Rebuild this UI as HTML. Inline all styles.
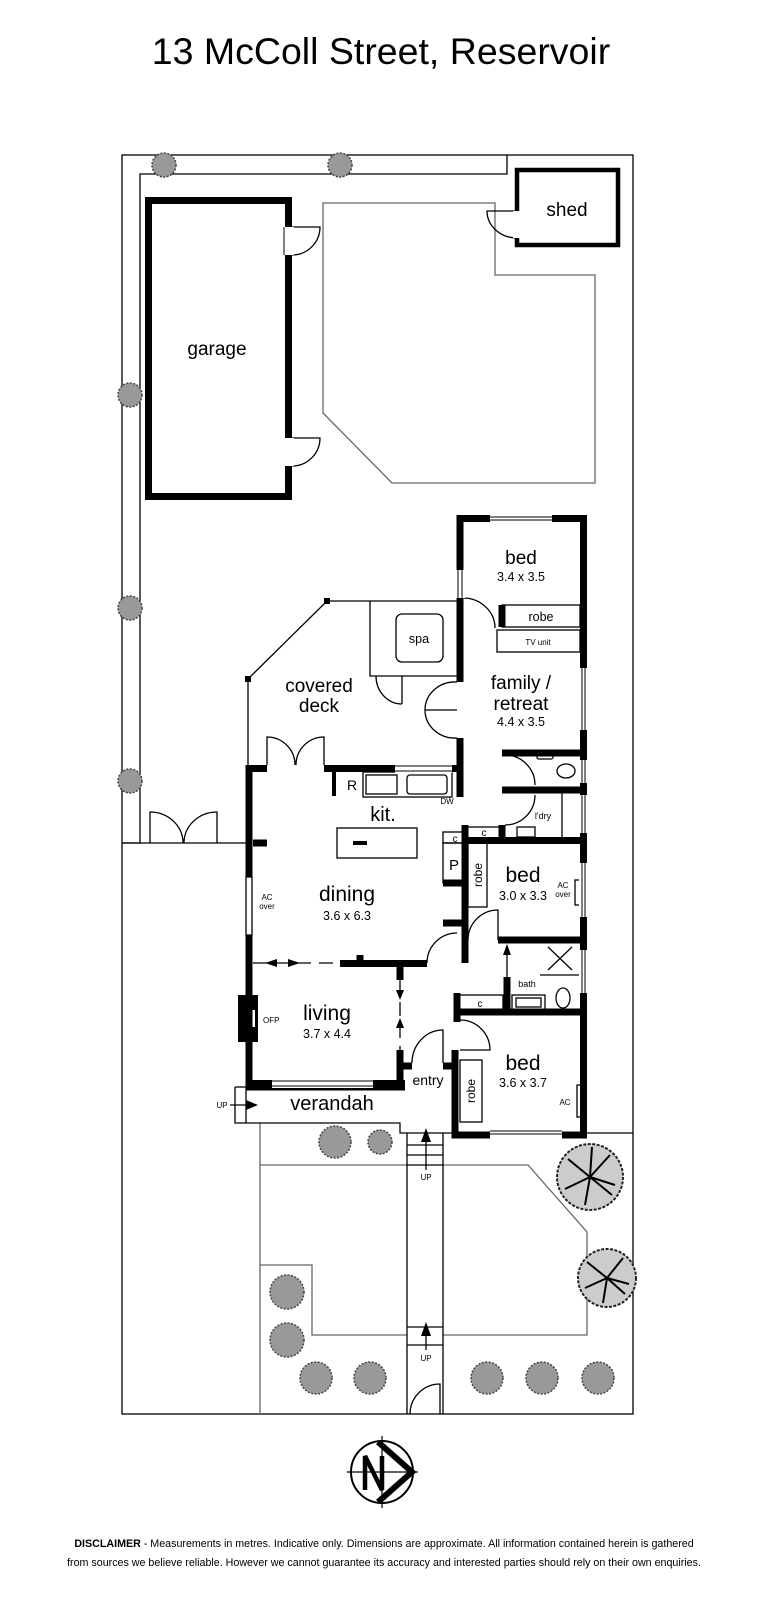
<!DOCTYPE html>
<html><head><meta charset="utf-8"><style>
body{margin:0;background:#fff;width:768px;height:1600px;overflow:hidden;font-family:"Liberation Sans",sans-serif}
svg{position:absolute;left:0;top:0}
</style></head><body>
<svg width="768" height="1600" viewBox="0 0 768 1600" font-family="Liberation Sans, sans-serif">
<text x="381" y="64" font-size="37.5" text-anchor="middle">13 McColl Street, Reservoir</text>
<g fill="none" stroke="#000" stroke-width="1.3">
<rect x="122" y="155" width="511" height="1259"/>
<polyline points="507,155 507,174 140,174 140,843 122,843"/>
<line x1="122" y1="843" x2="247" y2="843"/>
<path d="M150 843 v-31 a33 31 0 0 1 33 31 M217 843 v-31 a33 31 0 0 0 -33 31"/>
</g>
<g fill="none" stroke="#666" stroke-width="1.3">
<polygon points="323,203 495,203 495,275 595,275 595,483 392,483 323,413"/>
<polyline points="260,1414 260,1123"/>
<polyline points="260,1165 407,1165"/>
<polyline points="443,1165 528,1165 587,1232 587,1335 443,1335"/>
<polyline points="260,1265 312,1265 312,1335 407,1335"/>
</g>
<g fill="none" stroke="#000" stroke-width="1.3">
<line x1="407" y1="1133" x2="407" y2="1414"/><line x1="443" y1="1133" x2="443" y2="1414"/>
<line x1="407" y1="1145" x2="443" y2="1145"/><line x1="407" y1="1155" x2="443" y2="1155"/><line x1="407" y1="1165" x2="443" y2="1165"/>
<line x1="407" y1="1327" x2="443" y2="1327"/><line x1="407" y1="1345" x2="443" y2="1345"/>
<path d="M440 1414 v-30 a30 30 0 0 0 -30 30"/>
<line x1="426" y1="1170" x2="426" y2="1136"/><line x1="426" y1="1350" x2="426" y2="1330"/>
<line x1="587" y1="1133" x2="633" y2="1133"/>
<path d="M292 227 h28 a28 28 0 0 1 -28 28 M292 438 h28 a28 28 0 0 1 -28 28"/>
<path d="M517 211 h-30 a30 27 0 0 0 30 27"/>
<polyline points="248,765 248,679 327,601 457,601"/>
<polyline points="370,601 370,676 457,676"/>
<rect x="396" y="614" width="47" height="48" rx="6"/>
<path d="M402 676 v28 M376 676 a26 28 0 0 0 26 28"/>
<path d="M267 765 v-28 a28 28 0 0 1 28 28 M324 765 v-28 a28 28 0 0 0 -28 28"/>
<path d="M457 682 a30 28 0 0 0 -32 28 h32 M457 738 a30 28 0 0 1 -32 -28"/>
<path d="M463 598 a32 30 0 0 1 32 30"/>
<rect x="502" y="605" width="78" height="22"/>
<rect x="497" y="630" width="83" height="22"/>
<rect x="363" y="772" width="89" height="25"/>
<rect x="366" y="775" width="31" height="19"/>
<rect x="407" y="775" width="40" height="19" rx="3"/>
<rect x="337" y="828" width="80" height="30"/>
<path d="M505 755 a30 30 0 0 1 30 30 M535 795 a30 30 0 0 1 -30 30"/>
<line x1="562" y1="790" x2="562" y2="838"/>
<rect x="517" y="827" width="18" height="10"/>
<rect x="537" y="752" width="16" height="7" rx="2"/>
<ellipse cx="566" cy="771" rx="9" ry="7"/>
<rect x="467" y="827" width="35" height="11"/>
<rect x="443" y="832" width="22" height="11"/>
<rect x="443" y="843" width="22" height="40"/>
<rect x="468" y="843" width="19" height="64"/>
<path d="M468 940 a30 30 0 0 1 30 -30 v30"/>
<rect x="575" y="880" width="5" height="25"/>
<line x1="548" y1="947" x2="572" y2="970"/><line x1="572" y1="947" x2="548" y2="970"/>
<line x1="540" y1="975" x2="580" y2="975"/>
<rect x="512" y="995" width="33" height="15"/><rect x="516" y="998" width="25" height="9"/>
<ellipse cx="563" cy="998" rx="7" ry="10"/>
<rect x="458" y="995" width="45" height="15"/>
<line x1="507" y1="978" x2="507" y2="950"/>
<line x1="253" y1="963" x2="340" y2="963" stroke-dasharray="14,8"/>
<path d="M427 963 a30 30 0 0 1 30 -30"/>
<line x1="400" y1="980" x2="400" y2="1050" stroke-dasharray="14,8"/>
<path d="M460 1020 a30 30 0 0 1 30 30 H460"/>
<path d="M412 1063 a31 33 0 0 1 31 -33 v33"/>
<rect x="460" y="1060" width="22" height="62"/>
<rect x="577" y="1085" width="4" height="32"/>
<rect x="246" y="877" width="6" height="58"/>
<polyline points="235,1087 249,1087"/>
<polyline points="235,1087 235,1123 400,1123 400,1133 455,1133"/>
<line x1="246" y1="1087" x2="246" y2="1123"/>
<line x1="230" y1="1105" x2="252" y2="1105"/>
</g>
<g fill="#000">
<polygon points="426,1128 421,1142 431,1142"/><polygon points="426,1322 421,1336 431,1336"/>
<polygon points="258,1105 246,1100 246,1110"/>
<polygon points="507,944 503,955 511,955"/>
<polygon points="300,963 288,959 288,967"/><polygon points="265,963 277,959 277,967"/>
<polygon points="400,1000 396,990 404,990"/><polygon points="400,1018 396,1028 404,1028"/>
<rect x="353" y="841" width="14" height="4"/>
<rect x="332" y="772" width="4" height="24"/>
<rect x="238" y="995" width="20" height="47"/>
<rect x="245" y="676" width="6" height="6"/>
<rect x="324" y="598" width="6" height="6"/>
</g>
<rect x="247" y="1010" width="8" height="17" fill="#fff"/>
<g fill="none" stroke="#000" stroke-width="7">
<rect x="148.5" y="200.5" width="140" height="296"/>
<polyline points="583.5,515 583.5,1135"/>
<polyline points="457,518.5 587,518.5"/>
<polyline points="460,515 460,570"/><polyline points="460,598 460,682"/><polyline points="460,738 460,797"/>
<polyline points="247,768.5 267,768.5"/><polyline points="324,768.5 395,768.5"/><polyline points="452,768.5 463,768.5"/>
<polyline points="249,765 249,877"/><polyline points="249,935 249,1087 405,1087 400,1087"/>
<polyline points="249,1083.5 405,1083.5"/>
<polyline points="400,963 400,980"/><polyline points="400,1050 400,1087"/>
<polyline points="253,843 267,843"/>
<polyline points="340,963.5 427,963.5"/><polyline points="360,963 360,955"/>
<polyline points="465,825 465,963"/>
<polyline points="443,923 465,923"/>
<polyline points="462,840.5 587,840.5"/>
<polyline points="502,753 587,753"/><polyline points="502,790 587,790"/>
<polyline points="498,940 587,940"/>
<polyline points="507,977 507,1012"/>
<polyline points="455,1012 587,1012"/><polyline points="457,993 457,1022"/>
<polyline points="455,1050 455,1135 587,1135"/>
<polyline points="400,1066 412,1066"/><polyline points="443,1066 458,1066"/>
<polyline points="502,605 502,627"/>
<polyline points="502,825 502,840"/>
<polyline points="443,883 465,883"/>
</g>
<g fill="none" stroke="#000" stroke-width="4.5">
<rect x="517" y="170" width="101" height="75"/>
</g>
<g fill="#fff" stroke="none">
<rect x="284" y="227" width="10" height="28"/><rect x="284" y="438" width="10" height="28"/>
<rect x="513" y="211" width="8" height="27"/>
<rect x="490" y="514" width="62" height="9"/><rect x="456" y="570" width="9" height="28"/>
<rect x="579" y="668" width="9" height="62"/><rect x="579" y="760" width="9" height="23"/>
<rect x="579" y="795" width="9" height="38"/><rect x="579" y="863" width="9" height="54"/>
<rect x="579" y="950" width="9" height="43"/>
<rect x="272" y="1079" width="101" height="9"/><rect x="490" y="1131" width="72" height="8"/>
<rect x="395" y="764" width="57" height="9"/>
</g>
<g fill="none" stroke="#000" stroke-width="1">
<line x1="490" y1="517" x2="552" y2="517"/><line x1="490" y1="520" x2="552" y2="520"/>
<line x1="458" y1="570" x2="458" y2="598"/><line x1="462" y1="570" x2="462" y2="598"/>
<line x1="582" y1="668" x2="582" y2="730"/><line x1="585" y1="668" x2="585" y2="730"/>
<line x1="582" y1="760" x2="582" y2="833"/><line x1="585" y1="760" x2="585" y2="833"/>
<line x1="582" y1="863" x2="582" y2="917"/><line x1="585" y1="863" x2="585" y2="917"/>
<line x1="582" y1="950" x2="582" y2="993"/><line x1="585" y1="950" x2="585" y2="993"/>
<line x1="395" y1="766" x2="452" y2="766"/><line x1="395" y1="771" x2="452" y2="771"/>
<line x1="272" y1="1081" x2="373" y2="1081"/><line x1="272" y1="1086" x2="373" y2="1086"/>
<line x1="490" y1="1131" x2="562" y2="1131"/><line x1="490" y1="1134" x2="562" y2="1134"/>
<line x1="284" y1="227" x2="284" y2="255"/>
</g>
<g fill="#999" stroke="#444" stroke-width="1.5" stroke-dasharray="2,1.5">
<circle cx="164" cy="165" r="12"/><circle cx="340" cy="165" r="12"/><circle cx="130" cy="395" r="12"/><circle cx="130" cy="608" r="12"/><circle cx="130" cy="781" r="12"/>
<circle cx="335" cy="1142" r="16"/><circle cx="380" cy="1142" r="12"/>
<circle cx="287" cy="1292" r="17"/><circle cx="287" cy="1340" r="17"/>
<circle cx="316" cy="1378" r="16"/><circle cx="370" cy="1378" r="16"/>
<circle cx="487" cy="1378" r="16"/><circle cx="542" cy="1378" r="16"/><circle cx="598" cy="1378" r="16"/>
</g>
<g fill="#ccc" stroke="#222" stroke-width="2" stroke-dasharray="3,1.5">
<circle cx="590" cy="1177" r="33"/><circle cx="607" cy="1278" r="29"/>
</g>
<g stroke="#000" stroke-width="2">
<path d="M590 1177 l-22 -18 M590 1177 l20 -22 M590 1177 l25 8 M590 1177 l-5 28 M590 1177 l-25 12 M590 1177 l2 -30 M590 1177 l22 18"/>
<path d="M607 1278 l-20 -16 M607 1278 l16 -20 M607 1278 l22 6 M607 1278 l-4 25 M607 1278 l-22 10 M607 1278 l18 16"/>
</g>
<g font-size="19" text-anchor="middle">
<text x="567" y="216">shed</text><text x="217" y="355">garage</text>
<text x="521" y="564">bed</text><text x="319" y="692">covered</text><text x="319" y="712">deck</text>
<text x="521" y="689">family /</text><text x="521" y="710">retreat</text>
<text x="383" y="821" font-size="20">kit.</text><text x="347" y="901" font-size="21">dining</text><text x="523" y="882" font-size="21">bed</text>
<text x="327" y="1020" font-size="21">living</text><text x="523" y="1070" font-size="21">bed</text>
</g>
<g font-size="12.5" text-anchor="middle">
<text x="521" y="581">3.4 x 3.5</text><text x="521" y="726">4.4 x 3.5</text><text x="347" y="920">3.6 x 6.3</text>
<text x="523" y="900">3.0 x 3.3</text><text x="327" y="1038">3.7 x 4.4</text><text x="523" y="1087">3.6 x 3.7</text>
<text x="419" y="643">spa</text><text x="541" y="621">robe</text>
<text x="352" y="790" font-size="14">R</text><text x="454" y="870" font-size="15">P</text>
<text x="455" y="842" font-size="10">c</text><text x="484" y="836" font-size="10">c</text><text x="480" y="1007" font-size="10">c</text>
</g>
<text x="428" y="1085" font-size="14" text-anchor="middle">entry</text>
<text x="332" y="1110" font-size="20" text-anchor="middle">verandah</text>
<g font-size="8" text-anchor="middle">
<text x="538" y="645">TV unit</text><text x="543" y="819" font-size="9">l'dry</text><text x="527" y="987" font-size="9">bath</text>
<text x="447" y="804">DW</text><text x="263" y="1023" text-anchor="start">OFP</text>
<text x="222" y="1108">UP</text><text x="426" y="1180">UP</text><text x="426" y="1361">UP</text>
<text x="565" y="1105">AC</text><text x="267" y="900">AC</text><text x="267" y="909">over</text>
<text x="563" y="888">AC</text><text x="563" y="897">over</text>
</g>
<text x="478" y="875" font-size="12" transform="rotate(-90 478 875)" text-anchor="middle" dy="4">robe</text>
<text x="471" y="1091" font-size="12" transform="rotate(-90 471 1091)" text-anchor="middle" dy="4">robe</text>
<g fill="none" stroke="#000">
<circle cx="382" cy="1472" r="31" stroke-width="2"/>
<line x1="347" y1="1472" x2="418" y2="1472" stroke-width="1.2"/><line x1="382" y1="1436" x2="382" y2="1508" stroke-width="1.2"/>
<path d="M378 1442 L412 1472 L378 1502" stroke-width="6"/>
<path d="M365 1490 v-34 l17 34 v-34" stroke-width="4.5"/>
</g>
<text x="384" y="1547" font-size="10.7" text-anchor="middle"><tspan font-weight="bold">DISCLAIMER</tspan> - Measurements in metres. Indicative only. Dimensions are approximate. All information contained herein is gathered</text>
<text x="384" y="1566" font-size="10.7" text-anchor="middle">from sources we believe reliable. However we cannot guarantee its accuracy and interested parties should rely on their own enquiries.</text>
</svg>
</body></html>
